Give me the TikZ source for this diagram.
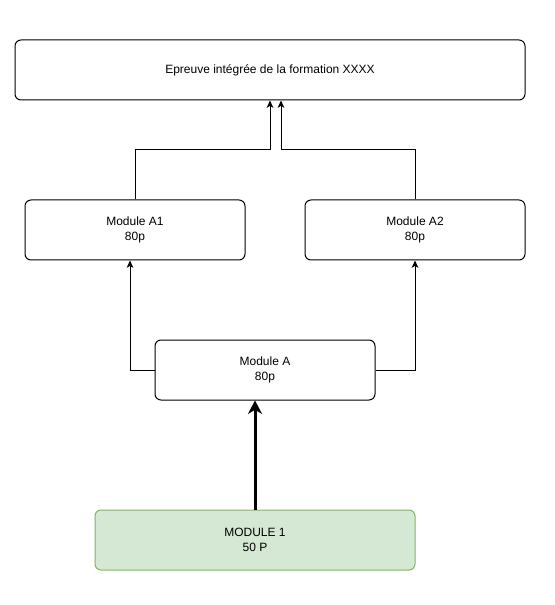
\documentclass[tikz,border=0pt]{standalone}
\usepackage{fontspec}
\setmainfont{Liberation Sans}
\usetikzlibrary{positioning}
\usetikzlibrary {arrows.meta}
\definecolor{startfill}{HTML}{D5E8D4}
\definecolor{startline}{HTML}{82B366}
\tikzset{modbox/.style={rectangle,rounded corners=4.5pt,draw=black,fill=white,
line width=0.75pt,inner sep=0pt,minimum height=45pt, minimum width=165pt,
align=center,font=\fontsize{9}{11.25}\selectfont}}
\tikzset{epreuvebox/.style={modbox,minimum width=382.5pt}}
\tikzset{startbox/.style={modbox,fill=startfill,draw=startline,minimum width=240pt}}
\tikzset{link/.style={line width=0.75pt,-{Stealth[length=5.5pt,width=5pt,inset=1.5pt]}}}
\tikzset{mainlink/.style={line width=2.25pt,-{Stealth[length=10pt,width=10.5pt,inset=3pt]}}}

\begin{document}
\begin{tikzpicture}[x=0.75pt,y=-0.75pt]
    \useasboundingbox (0,0) rectangle (555,605);

        \node[epreuvebox] (epreuve) at (270, 70) {Epreuve intégrée de la formation XXXX};
        \node[modbox] (modAone) at (135, 230) {Module A1\\80p};
        \node[modbox] (modAtwo) at (415, 230) {Module A2\\80p};
        \node[modbox] (modA) at (265, 370) {Module A\\80p};
        \node[startbox] (modone) at (255, 540) {MODULE 1\\50 P};

        \coordinate (joinL) at (270, 150);
        \coordinate (joinR) at (281, 150);

        \draw [mainlink] (modone) -- ([xshift=-7.5pt]modA.south);

        \draw [link] (modA.west) -| ([xshift=-3.75pt]modAone.south);
        \draw [link] (modA.east) -| (modAtwo.south);

        \draw [link] (modAone.north) |- (joinL) -- (epreuve.south);
        \draw [link] (modAtwo.north) |- (joinR) -- ([xshift=8.25pt]epreuve.south);

\end{tikzpicture}
\end{document}
